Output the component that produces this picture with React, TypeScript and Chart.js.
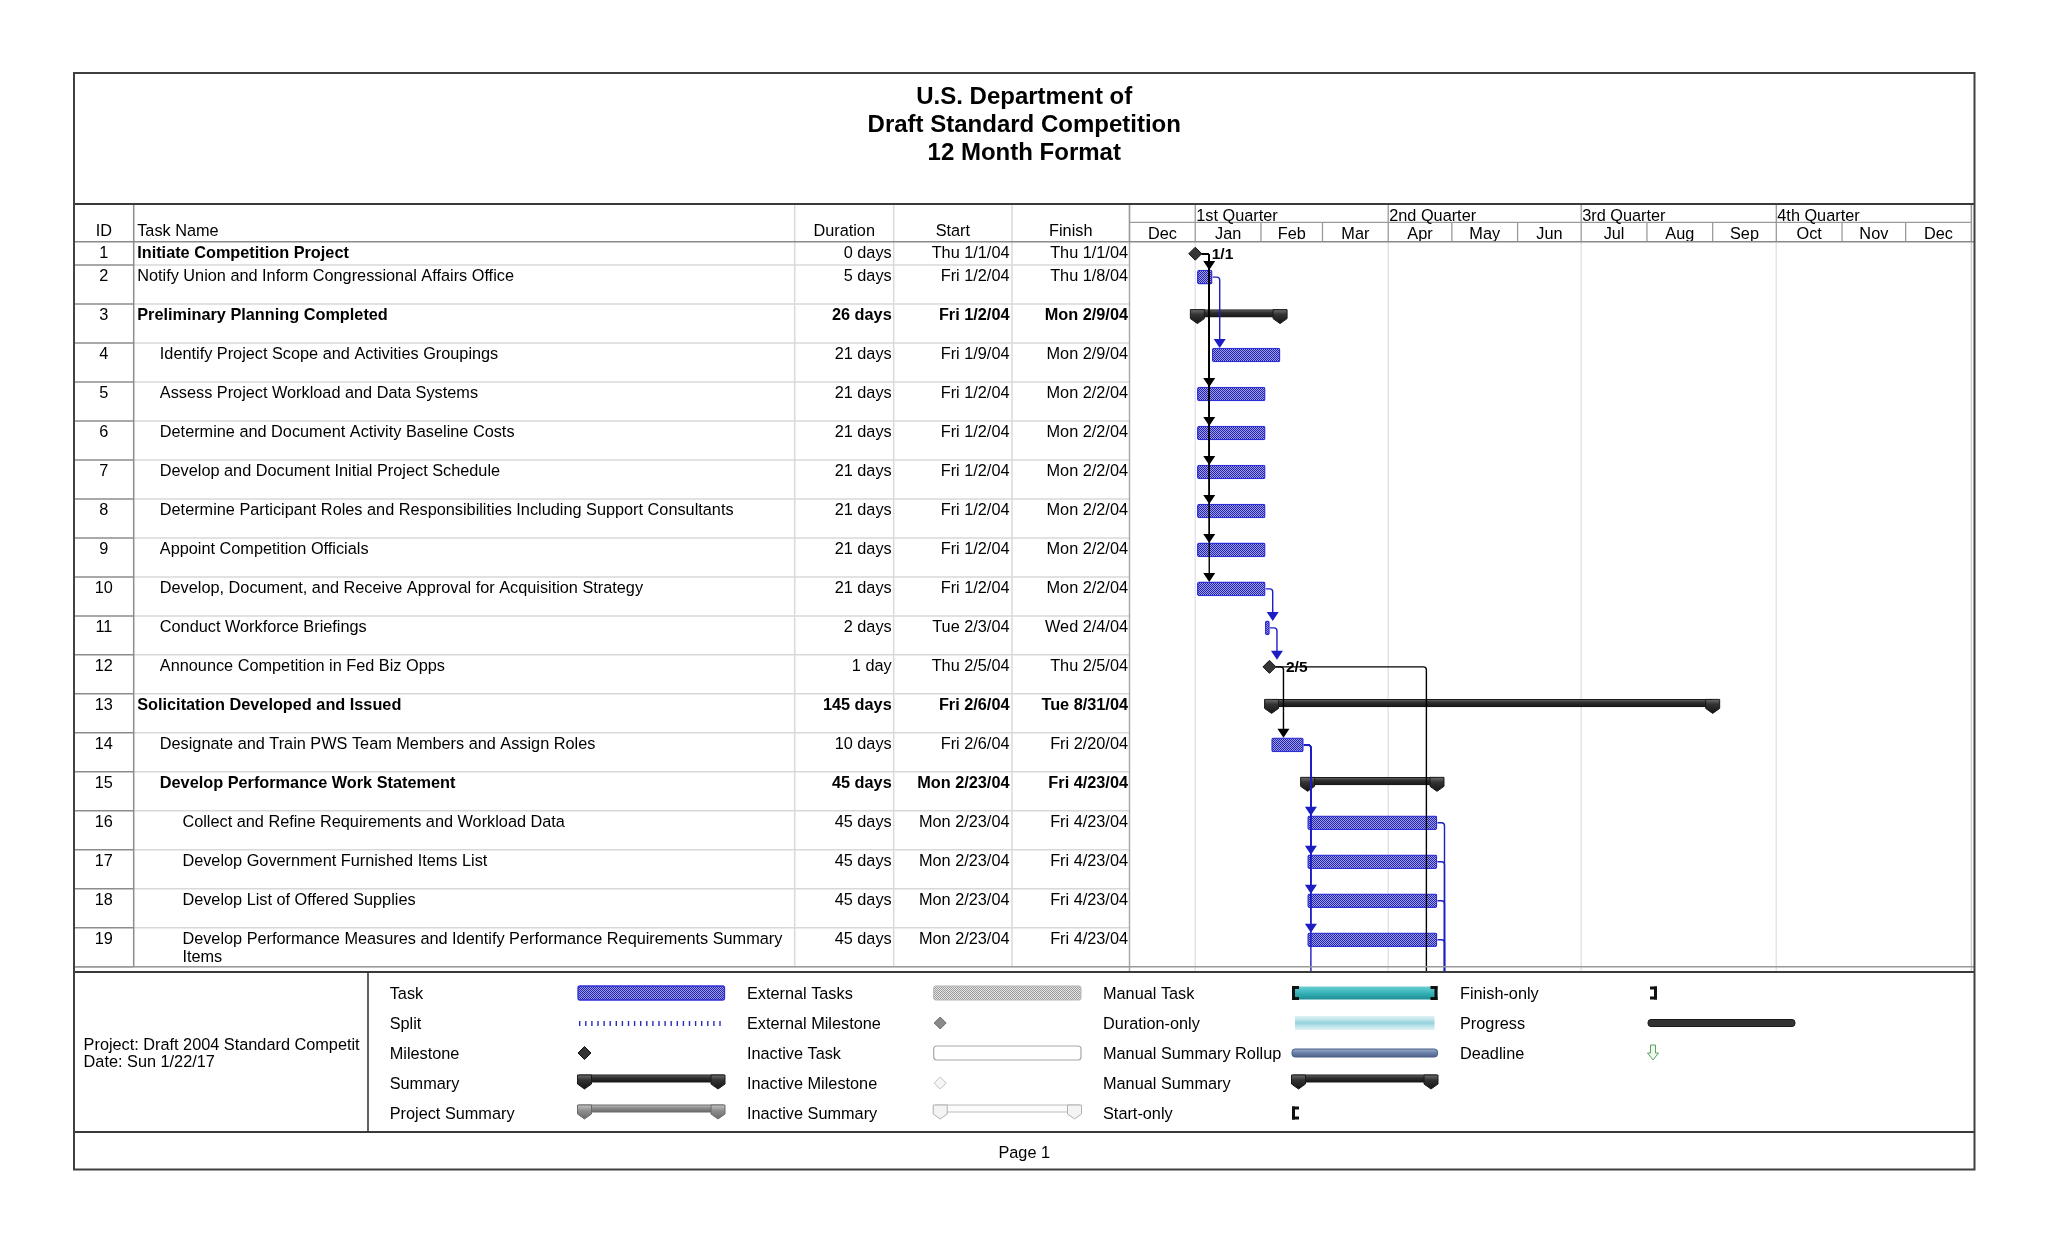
import React, { useEffect, useRef } from 'react';
import { Chart, registerables } from 'chart.js';

Chart.register(...registerables);

// ---------------- data ----------------
const titleLines = ['U.S. Department of', 'Draft Standard Competition', '12 Month Format'];
const columnHeaders = ['ID', 'Task Name', 'Duration', 'Start', 'Finish'];

const taskIds = [1, 2, 3, 4, 5, 6, 7, 8, 9, 10, 11, 12, 13, 14, 15, 16, 17, 18, 19];
const taskNames = [
  'Initiate Competition Project',
  'Notify Union and Inform Congressional Affairs Office',
  'Preliminary Planning Completed',
  'Identify Project Scope and Activities Groupings',
  'Assess Project Workload and Data Systems',
  'Determine and Document Activity Baseline Costs',
  'Develop and Document Initial Project Schedule',
  'Determine Participant Roles and Responsibilities Including Support Consultants',
  'Appoint Competition Officials',
  'Develop, Document, and Receive Approval for Acquisition Strategy',
  'Conduct Workforce Briefings',
  'Announce Competition in Fed Biz Opps',
  'Solicitation Developed and Issued',
  'Designate and Train PWS Team Members and Assign Roles',
  'Develop Performance Work Statement',
  'Collect and Refine Requirements and Workload Data',
  'Develop Government Furnished Items List',
  'Develop List of Offered Supplies',
  'Develop Performance Measures and Identify Performance Requirements Summary Items',
];
const taskLevels = [0, 0, 0, 1, 1, 1, 1, 1, 1, 1, 1, 1, 0, 1, 1, 2, 2, 2, 2];
const taskKinds = ['milestone', 'task', 'summary', 'task', 'task', 'task', 'task', 'task', 'task', 'task', 'task', 'milestone', 'summary', 'task', 'summary', 'task', 'task', 'task', 'task'];
const nameBold = [true, false, true, false, false, false, false, false, false, false, false, false, true, false, true, false, false, false, false];
const valuesBold = [false, false, true, false, false, false, false, false, false, false, false, false, true, false, true, false, false, false, false];
const durations = ['0 days', '5 days', '26 days', '21 days', '21 days', '21 days', '21 days', '21 days', '21 days', '21 days', '2 days', '1 day', '145 days', '10 days', '45 days', '45 days', '45 days', '45 days', '45 days'];
const startLabels = ['Thu 1/1/04', 'Fri 1/2/04', 'Fri 1/2/04', 'Fri 1/9/04', 'Fri 1/2/04', 'Fri 1/2/04', 'Fri 1/2/04', 'Fri 1/2/04', 'Fri 1/2/04', 'Fri 1/2/04', 'Tue 2/3/04', 'Thu 2/5/04', 'Fri 2/6/04', 'Fri 2/6/04', 'Mon 2/23/04', 'Mon 2/23/04', 'Mon 2/23/04', 'Mon 2/23/04', 'Mon 2/23/04'];
const finishLabels = ['Thu 1/1/04', 'Thu 1/8/04', 'Mon 2/9/04', 'Mon 2/9/04', 'Mon 2/2/04', 'Mon 2/2/04', 'Mon 2/2/04', 'Mon 2/2/04', 'Mon 2/2/04', 'Mon 2/2/04', 'Wed 2/4/04', 'Thu 2/5/04', 'Tue 8/31/04', 'Fri 2/20/04', 'Fri 4/23/04', 'Fri 4/23/04', 'Fri 4/23/04', 'Fri 4/23/04', 'Fri 4/23/04'];
// days counted from 12/1/03 (start of the timescale)
const startDays = [31, 32, 32, 39, 32, 32, 32, 32, 32, 32, 64, 66, 67, 67, 84, 84, 84, 84, 84];
const endDays = [31, 39, 71, 71, 64, 64, 64, 64, 64, 64, 66, 66, 275, 82, 145, 145, 145, 145, 145];
const milestoneRows = [1, 12];
const milestoneLabels = ['1/1', '2/5'];

// finish-to-start links; 0 = successor printed on a later page
const linkFrom = [1, 1, 1, 1, 1, 1, 1, 2, 10, 11, 12, 12, 14, 14, 14, 14, 14, 16, 17, 18, 19];
const linkTo = [2, 5, 6, 7, 8, 9, 10, 4, 11, 12, 14, 0, 16, 17, 18, 19, 0, 0, 0, 0, 0];
const linkOffPageStart = [null, null, null, null, null, null, null, null, null, null, null, 140, null, null, null, null, 84, 145, 145, 145, 145];

const monthLabels = ['Dec', 'Jan', 'Feb', 'Mar', 'Apr', 'May', 'Jun', 'Jul', 'Aug', 'Sep', 'Oct', 'Nov', 'Dec'];
const monthStartDays = [0, 31, 62, 91, 122, 152, 183, 213, 244, 275, 305, 336, 366, 397];
const quarterLabels = ['1st Quarter', '2nd Quarter', '3rd Quarter', '4th Quarter'];
const quarterStartDays = [31, 122, 213, 305];

const legendCol1 = ['Task', 'Split', 'Milestone', 'Summary', 'Project Summary'];
const legendCol2 = ['External Tasks', 'External Milestone', 'Inactive Task', 'Inactive Milestone', 'Inactive Summary'];
const legendCol3 = ['Manual Task', 'Duration-only', 'Manual Summary Rollup', 'Manual Summary', 'Start-only'];
const legendCol4 = ['Finish-only', 'Progress', 'Deadline'];
const projectInfo = ['Project: Draft 2004 Standard Competit', 'Date: Sun 1/22/17'];
const footerText = 'Page 1';

// ---------------- layout ----------------
const PAGE_W = 2048;
const PAGE_H = 1243;
const FONT = '"Liberation Sans", Arial, Helvetica, sans-serif';
const FS = 16.3;
const B_LEFT = 74, B_RIGHT = 1974.5, B_TOP = 73, B_BOTTOM = 1169.5;
const C_ID = 133.7, C_NAME = 794.7, C_DUR = 893.7, C_START = 1012, C_FIN = 1129.5;
const HEADER_TOP = 204, QUARTER_BOTTOM = 222.3, HEADER_BOTTOM = 241.7;
const GANTT_RIGHT = 1971.4;
const BODY_BOTTOM = 966.7, LEGEND_TOP = 972, FOOTER_TOP = 1132, LEGEND_DIV = 368;
const X_MAX = 397;
const Y_MAX = 18.6;
const ROW_PX = (BODY_BOTTOM - HEADER_BOTTOM) / Y_MAX;
const BAR_OFF = 12 / ROW_PX;
const SUM_OFF = 9.3 / ROW_PX;
const rowTopU = (r: number) => (r <= 1 ? 0 : r > 19 ? Y_MAX : 0.6 + (r - 2));

function line(ctx: any, x1: number, y1: number, x2: number, y2: number) {
  ctx.beginPath();
  ctx.moveTo(x1, y1);
  ctx.lineTo(x2, y2);
  ctx.stroke();
}

function makeChecker(dark: string, light: string) {
  const c = document.createElement('canvas');
  c.width = 2;
  c.height = 2;
  const g = c.getContext('2d') as CanvasRenderingContext2D;
  g.fillStyle = light;
  g.fillRect(0, 0, 2, 2);
  g.fillStyle = dark;
  g.fillRect(0, 0, 1, 1);
  g.fillRect(1, 1, 1, 1);
  return g.createPattern(c, 'repeat');
}

function summaryGradient(ctx: any, top: number, h: number, dark: boolean) {
  if (!isFinite(top) || !isFinite(h)) return dark ? '#333333' : '#8e8e8e';
  const g = ctx.createLinearGradient(0, top, 0, top + h);
  if (dark) {
    g.addColorStop(0, '#6e6e6e');
    g.addColorStop(0.35, '#333333');
    g.addColorStop(1, '#151515');
  } else {
    g.addColorStop(0, '#c4c4c4');
    g.addColorStop(0.4, '#8e8e8e');
    g.addColorStop(1, '#6a6a6a');
  }
  return g;
}

function drawCap(ctx: any, cx: number, top: number, fill: any, stroke: string) {
  ctx.beginPath();
  ctx.moveTo(cx - 7, top);
  ctx.lineTo(cx + 7, top);
  ctx.lineTo(cx + 7, top + 9);
  ctx.lineTo(cx, top + 14);
  ctx.lineTo(cx - 7, top + 9);
  ctx.closePath();
  ctx.fillStyle = fill;
  ctx.fill();
  ctx.strokeStyle = stroke;
  ctx.lineWidth = 1;
  ctx.stroke();
}

function drawDiamond(ctx: any, cx: number, cy: number, r: number, fill: string, stroke: string) {
  ctx.beginPath();
  ctx.moveTo(cx - r, cy);
  ctx.lineTo(cx, cy - r);
  ctx.lineTo(cx + r, cy);
  ctx.lineTo(cx, cy + r);
  ctx.closePath();
  ctx.fillStyle = fill;
  ctx.fill();
  ctx.strokeStyle = stroke;
  ctx.lineWidth = 1;
  ctx.stroke();
}

function roundRect(ctx: any, x: number, y: number, w: number, h: number, r: number) {
  ctx.beginPath();
  ctx.moveTo(x + r, y);
  ctx.lineTo(x + w - r, y);
  ctx.quadraticCurveTo(x + w, y, x + w, y + r);
  ctx.lineTo(x + w, y + h - r);
  ctx.quadraticCurveTo(x + w, y + h, x + w - r, y + h);
  ctx.lineTo(x + r, y + h);
  ctx.quadraticCurveTo(x, y + h, x, y + h - r);
  ctx.lineTo(x, y + r);
  ctx.quadraticCurveTo(x, y, x + r, y);
  ctx.closePath();
}

function wrapText(ctx: any, text: string, maxW: number) {
  const words = text.split(' ');
  const lines: string[] = [];
  let cur = '';
  for (const w of words) {
    const test = cur ? cur + ' ' + w : w;
    if (ctx.measureText(test).width > maxW && cur) {
      lines.push(cur);
      cur = w;
    } else cur = test;
  }
  if (cur) lines.push(cur);
  return lines;
}

function drawPageBackground(chart: any) {
  const ctx = chart.ctx;
  const xs = chart.scales.x;
  const ys = chart.scales.y;
  ctx.save();
  ctx.fillStyle = '#ffffff';
  ctx.fillRect(0, 0, PAGE_W, PAGE_H);

  // gantt quarter gridlines
  ctx.strokeStyle = '#e3e3ea';
  ctx.lineWidth = 1.5;
  for (const d of quarterStartDays) {
    const x = xs.getPixelForValue(d);
    line(ctx, x, HEADER_BOTTOM, x, LEGEND_TOP);
  }
  ctx.strokeStyle = '#cfcfcf';
  line(ctx, GANTT_RIGHT, HEADER_TOP, GANTT_RIGHT, LEGEND_TOP);

  // table row separators
  for (let r = 1; r <= 19; r++) {
    const yb = ys.getPixelForValue(rowTopU(r + 1));
    ctx.lineWidth = 1.5;
    ctx.strokeStyle = '#d8d8d8';
    line(ctx, C_ID, yb, C_FIN, yb);
    ctx.strokeStyle = '#8c8c8c';
    line(ctx, B_LEFT, yb, C_ID, yb);
  }
  // column borders
  ctx.lineWidth = 1.5;
  ctx.strokeStyle = '#dadada';
  for (const x of [C_NAME, C_DUR, C_START]) line(ctx, x, HEADER_TOP, x, BODY_BOTTOM);
  ctx.strokeStyle = '#8c8c8c';
  line(ctx, C_ID, HEADER_TOP, C_ID, BODY_BOTTOM);
  ctx.strokeStyle = '#ababab';
  line(ctx, C_FIN, HEADER_TOP, C_FIN, LEGEND_TOP);

  // timescale header
  ctx.strokeStyle = '#9a9a9a';
  ctx.lineWidth = 1.3;
  line(ctx, C_FIN, QUARTER_BOTTOM, GANTT_RIGHT, QUARTER_BOTTOM);
  for (const d of monthStartDays) {
    const x = xs.getPixelForValue(d);
    line(ctx, x, QUARTER_BOTTOM, x, HEADER_BOTTOM);
  }
  for (const d of [0, ...quarterStartDays, X_MAX]) {
    const x = xs.getPixelForValue(d);
    line(ctx, x, HEADER_TOP, x, QUARTER_BOTTOM);
  }
  ctx.fillStyle = '#000';
  ctx.font = `${FS}px ${FONT}`;
  ctx.textBaseline = 'alphabetic';
  ctx.textAlign = 'left';
  quarterLabels.forEach((q, i) => {
    ctx.fillText(q, xs.getPixelForValue(quarterStartDays[i]) + 1, QUARTER_BOTTOM - 1.5);
  });
  ctx.textAlign = 'center';
  monthLabels.forEach((m, i) => {
    const xc = (xs.getPixelForValue(monthStartDays[i]) + xs.getPixelForValue(monthStartDays[i + 1])) / 2;
    ctx.fillText(m, xc, HEADER_BOTTOM - 3);
  });

  // header lines
  ctx.strokeStyle = '#3a3a3a';
  ctx.lineWidth = 2;
  line(ctx, B_LEFT, HEADER_TOP, B_RIGHT, HEADER_TOP);
  ctx.strokeStyle = '#8a8a8a';
  ctx.lineWidth = 1.5;
  line(ctx, B_LEFT, HEADER_BOTTOM, B_RIGHT, HEADER_BOTTOM);

  // column headers
  ctx.font = `${FS}px ${FONT}`;
  const hb = 236;
  ctx.textAlign = 'center';
  ctx.fillText(columnHeaders[0], (B_LEFT + C_ID) / 2, hb);
  ctx.textAlign = 'left';
  ctx.fillText(columnHeaders[1], C_ID + 3.5, hb);
  ctx.textAlign = 'center';
  ctx.fillText(columnHeaders[2], (C_NAME + C_DUR) / 2, hb);
  ctx.fillText(columnHeaders[3], (C_DUR + C_START) / 2, hb);
  ctx.fillText(columnHeaders[4], (C_START + C_FIN) / 2, hb);

  // rows
  for (let i = 0; i < taskIds.length; i++) {
    const r = taskIds[i];
    const top = ys.getPixelForValue(rowTopU(r));
    const base = top + 16;
    ctx.font = `${FS}px ${FONT}`;
    ctx.textAlign = 'center';
    ctx.fillText(String(r), (B_LEFT + C_ID) / 2, base);
    ctx.font = `${nameBold[i] ? 'bold ' : ''}${FS}px ${FONT}`;
    ctx.textAlign = 'left';
    const tx = C_ID + 3.5 + taskLevels[i] * 22.6;
    const lines = wrapText(ctx, taskNames[i], C_NAME - tx - 3);
    lines.forEach((ln, k) => ctx.fillText(ln, tx, base + k * 17.8));
    ctx.font = `${valuesBold[i] ? 'bold ' : ''}${FS}px ${FONT}`;
    ctx.textAlign = 'right';
    ctx.fillText(durations[i], C_DUR - 2, base);
    ctx.fillText(startLabels[i], C_START - 2.5, base);
    ctx.fillText(finishLabels[i], C_FIN - 1.5, base);
  }

  // title
  ctx.font = `bold 24px ${FONT}`;
  ctx.textAlign = 'center';
  titleLines.forEach((t, i) => ctx.fillText(t, (B_LEFT + B_RIGHT) / 2, 104 + i * 28));
  ctx.restore();
}

function drawGanttOverlay(chart: any) {
  const ctx = chart.ctx;
  const xs = chart.scales.x;
  const ys = chart.scales.y;
  ctx.save();
  // summary end caps
  taskIds.forEach((r, i) => {
    if (taskKinds[i] !== 'summary') return;
    const yc = ys.getPixelForValue(rowTopU(r) + SUM_OFF);
    const top = yc - 3.75;
    const g = summaryGradient(ctx, top, 14, true);
    drawCap(ctx, xs.getPixelForValue(startDays[i]), top, g, '#1a1a1a');
    drawCap(ctx, xs.getPixelForValue(endDays[i]), top, g, '#1a1a1a');
  });

  // links
  for (let i = 0; i < linkFrom.length; i++) {
    const s = linkFrom[i] - 1;
    const t = linkTo[i];
    const srcMs = taskKinds[s] === 'milestone';
    const sy = ys.getPixelForValue(rowTopU(s + 1) + BAR_OFF);
    const sEnd = xs.getPixelForValue(endDays[s]);
    const x0 = srcMs ? sEnd + 6.5 : sEnd + 0.5;
    const gap = srcMs ? 14 : 7.5;
    const tDay = t === 0 ? (linkOffPageStart[i] as number) : startDays[t - 1];
    const vx = Math.max(sEnd + gap, xs.getPixelForValue(tDay));
    const tipY = t === 0 ? LEGEND_TOP - 1 : ys.getPixelForValue(rowTopU(t) + BAR_OFF) - 7;
    const color = srcMs ? '#000000' : '#1d1dc4';
    ctx.strokeStyle = color;
    ctx.fillStyle = color;
    const rr = 3;
    const ah = t === 0 ? 0 : 8.5;
    ctx.lineWidth = 1.4;
    ctx.beginPath();
    ctx.moveTo(x0, sy);
    ctx.lineTo(vx - rr, sy);
    ctx.quadraticCurveTo(vx, sy, vx, sy + rr);
    ctx.lineTo(vx, tipY - ah);
    ctx.stroke();
    if (t !== 0) {
      ctx.beginPath();
      ctx.moveTo(vx - 6, tipY - 9);
      ctx.lineTo(vx + 6, tipY - 9);
      ctx.lineTo(vx, tipY);
      ctx.closePath();
      ctx.fill();
    }
  }

  // milestone labels
  ctx.fillStyle = '#000';
  ctx.font = `bold 15.5px ${FONT}`;
  ctx.textAlign = 'left';
  ctx.textBaseline = 'alphabetic';
  milestoneRows.forEach((r, k) => {
    const x = xs.getPixelForValue(startDays[r - 1]);
    const y = ys.getPixelForValue(rowTopU(r) + BAR_OFF);
    ctx.fillText(milestoneLabels[k], x + 16.5, y + 5.5);
  });
  ctx.restore();
}

function drawSummaryShape(ctx: any, x1: number, x2: number, top: number, dark: boolean) {
  const g = summaryGradient(ctx, top, 14, dark);
  const stroke = dark ? '#1a1a1a' : '#6a6a6a';
  roundRect(ctx, x1, top, x2 - x1, 7, 1.5);
  ctx.fillStyle = summaryGradient(ctx, top, 7, dark);
  ctx.fill();
  ctx.strokeStyle = stroke;
  ctx.lineWidth = 1;
  ctx.stroke();
  drawCap(ctx, x1 + 6.5, top, g, stroke);
  drawCap(ctx, x2 - 6.5, top, g, stroke);
}

function drawBracket(ctx: any, x: number, top: number, h: number, left: boolean) {
  ctx.fillStyle = '#111';
  if (left) {
    ctx.fillRect(x, top, 3, h);
    ctx.fillRect(x, top, 7, 3);
    ctx.fillRect(x, top + h - 3, 7, 3);
  } else {
    ctx.fillRect(x + 5, top, 3, h);
    ctx.fillRect(x + 1, top, 7, 3);
    ctx.fillRect(x + 1, top + h - 3, 7, 3);
  }
}

function drawLegendSymbol(ctx: any, name: string, x1: number, x2: number, yc: number, taskPat: any, extPat: any) {
  switch (name) {
    case 'Task':
      roundRect(ctx, x1, yc - 7, x2 - x1, 14, 2);
      ctx.fillStyle = taskPat;
      ctx.fill();
      ctx.strokeStyle = '#2f2fd8';
      ctx.lineWidth = 1.3;
      ctx.stroke();
      break;
    case 'Split':
      ctx.fillStyle = '#2b2bb8';
      for (let x = x1 + 1; x < x2 - 1; x += 6.1) ctx.fillRect(x, yc - 2, 1.4, 5);
      break;
    case 'Milestone':
      drawDiamond(ctx, x1 + 6.5, yc, 6.5, '#333', '#111');
      break;
    case 'Summary':
    case 'Manual Summary':
      drawSummaryShape(ctx, x1, x2, yc - 8, true);
      break;
    case 'Project Summary':
      drawSummaryShape(ctx, x1, x2, yc - 8, false);
      break;
    case 'External Tasks':
      roundRect(ctx, x1, yc - 7, x2 - x1, 14, 2);
      ctx.fillStyle = extPat;
      ctx.fill();
      ctx.strokeStyle = '#b5b5b5';
      ctx.lineWidth = 1;
      ctx.stroke();
      break;
    case 'External Milestone':
      drawDiamond(ctx, x1 + 6.5, yc, 6, '#8a8a8a', '#6e6e6e');
      break;
    case 'Inactive Task':
      roundRect(ctx, x1, yc - 7, x2 - x1, 14, 3);
      ctx.fillStyle = '#ffffff';
      ctx.fill();
      ctx.strokeStyle = '#a8a8a8';
      ctx.lineWidth = 1.2;
      ctx.stroke();
      break;
    case 'Inactive Milestone':
      drawDiamond(ctx, x1 + 6.5, yc, 6, '#f6f6f6', '#c4c4c4');
      break;
    case 'Inactive Summary': {
      roundRect(ctx, x1, yc - 8, x2 - x1, 7, 2);
      ctx.fillStyle = '#fbfbfb';
      ctx.fill();
      ctx.strokeStyle = '#bdbdbd';
      ctx.lineWidth = 1;
      ctx.stroke();
      drawCap(ctx, x1 + 6.5, yc - 8, '#f4f4f4', '#b0b0b0');
      drawCap(ctx, x2 - 6.5, yc - 8, '#f4f4f4', '#b0b0b0');
      break;
    }
    case 'Manual Task': {
      const g = ctx.createLinearGradient(0, yc - 7, 0, yc + 7);
      g.addColorStop(0, '#6fd2d6');
      g.addColorStop(0.5, '#35b2b8');
      g.addColorStop(1, '#1b8c92');
      ctx.fillStyle = g;
      ctx.fillRect(x1, yc - 6.5, x2 - x1, 13);
      drawBracket(ctx, x1, yc - 7, 14, true);
      drawBracket(ctx, x2 - 8, yc - 7, 14, false);
      break;
    }
    case 'Duration-only': {
      const g = ctx.createLinearGradient(0, yc - 8, 0, yc + 8);
      g.addColorStop(0, 'rgba(215,238,243,0.6)');
      g.addColorStop(0.5, '#93d2dc');
      g.addColorStop(1, 'rgba(215,238,243,0.6)');
      ctx.fillStyle = g;
      ctx.fillRect(x1 + 3, yc - 7, x2 - x1 - 6, 14);
      break;
    }
    case 'Manual Summary Rollup': {
      roundRect(ctx, x1, yc - 4, x2 - x1, 8, 3);
      const g = ctx.createLinearGradient(0, yc - 4, 0, yc + 4);
      g.addColorStop(0, '#9aaccd');
      g.addColorStop(0.5, '#6a80a9');
      g.addColorStop(1, '#4d628b');
      ctx.fillStyle = g;
      ctx.fill();
      ctx.strokeStyle = '#4b5f88';
      ctx.lineWidth = 1;
      ctx.stroke();
      break;
    }
    case 'Start-only':
      drawBracket(ctx, x1, yc - 6.5, 13, true);
      break;
    case 'Finish-only':
      drawBracket(ctx, x1 + 1, yc - 6.5, 13, false);
      break;
    case 'Progress':
      roundRect(ctx, x1, yc - 3.5, x2 - x1, 7, 3);
      ctx.fillStyle = '#333';
      ctx.fill();
      ctx.strokeStyle = '#1a1a1a';
      ctx.lineWidth = 1;
      ctx.stroke();
      break;
    case 'Deadline': {
      const cx = x1 + 5;
      ctx.beginPath();
      ctx.moveTo(cx - 2.5, yc - 8);
      ctx.lineTo(cx + 2.5, yc - 8);
      ctx.lineTo(cx + 2.5, yc);
      ctx.lineTo(cx + 5.5, yc);
      ctx.lineTo(cx, yc + 7);
      ctx.lineTo(cx - 5.5, yc);
      ctx.lineTo(cx - 2.5, yc);
      ctx.closePath();
      ctx.fillStyle = '#eef7ee';
      ctx.fill();
      ctx.strokeStyle = '#5f9f63';
      ctx.lineWidth = 1;
      ctx.stroke();
      break;
    }
    default:
      break;
  }
}

function drawPageFrame(chart: any, taskPat: any, extPat: any) {
  const ctx = chart.ctx;
  ctx.save();
  // bottom of table / legend frame
  ctx.strokeStyle = '#9a9a9a';
  ctx.lineWidth = 1.5;
  line(ctx, B_LEFT, BODY_BOTTOM, B_RIGHT, BODY_BOTTOM);
  ctx.strokeStyle = '#3a3a3a';
  ctx.lineWidth = 2;
  line(ctx, B_LEFT, LEGEND_TOP, B_RIGHT, LEGEND_TOP);
  line(ctx, B_LEFT, FOOTER_TOP, B_RIGHT, FOOTER_TOP);
  ctx.lineWidth = 1.6;
  line(ctx, LEGEND_DIV, LEGEND_TOP, LEGEND_DIV, FOOTER_TOP);
  // outer border
  ctx.strokeStyle = '#404040';
  ctx.lineWidth = 2;
  ctx.strokeRect(B_LEFT, B_TOP, B_RIGHT - B_LEFT, B_BOTTOM - B_TOP);

  // project info
  ctx.fillStyle = '#000';
  ctx.font = `${FS}px ${FONT}`;
  ctx.textAlign = 'left';
  ctx.textBaseline = 'alphabetic';
  ctx.fillText(projectInfo[0], 83.6, 1049.5);
  ctx.fillText(projectInfo[1], 83.6, 1067.2);

  // legend
  const cols = [
    { labels: legendCol1, lx: 389.7, sx1: 578, sx2: 724.5 },
    { labels: legendCol2, lx: 746.9, sx1: 933.7, sx2: 1081 },
    { labels: legendCol3, lx: 1103, sx1: 1292, sx2: 1437.5 },
    { labels: legendCol4, lx: 1460, sx1: 1648, sx2: 1795 },
  ];
  cols.forEach((c) => {
    c.labels.forEach((lab, k) => {
      const yc = 993 + k * 30;
      ctx.fillStyle = '#000';
      ctx.font = `${FS}px ${FONT}`;
      ctx.textAlign = 'left';
      ctx.fillText(lab, c.lx, yc + 5.6);
      ctx.save();
      drawLegendSymbol(ctx, lab, c.sx1, c.sx2, yc, taskPat, extPat);
      ctx.restore();
    });
  });

  // footer
  ctx.fillStyle = '#000';
  ctx.font = `${FS}px ${FONT}`;
  ctx.textAlign = 'center';
  ctx.fillText(footerText, (B_LEFT + B_RIGHT) / 2, 1157.5);
  ctx.restore();
}

export default function App() {
  const canvasRef = useRef<HTMLCanvasElement | null>(null);

  useEffect(() => {
    const canvas = canvasRef.current;
    if (!canvas) return;
    const taskPat = makeChecker('#2424ac', '#9c9ce8');
    const extPat = makeChecker('#9c9c9c', '#e4e4e4');

    const taskRowsIdx = taskIds.map((_, i) => i).filter((i) => taskKinds[i] === 'task');
    const summaryRowsIdx = taskIds.map((_, i) => i).filter((i) => taskKinds[i] === 'summary');

    const plugin = {
      id: 'ganttPage',
      beforeDraw: (chart: any) => drawPageBackground(chart),
      afterDatasetsDraw: (chart: any) => drawGanttOverlay(chart),
      afterDraw: (chart: any) => drawPageFrame(chart, taskPat, extPat),
    };

    const chart = new Chart(canvas, {
      type: 'bar',
      data: {
        datasets: [
          {
            type: 'bar',
            label: 'Task',
            indexAxis: 'y',
            grouped: false,
            barThickness: 14,
            maxBarThickness: 14,
            data: taskRowsIdx.map((i) => ({ x: [startDays[i], endDays[i]], y: rowTopU(taskIds[i]) + BAR_OFF })),
            backgroundColor: taskPat as any,
            borderColor: '#2f2fd8',
            borderWidth: 1.3,
            borderRadius: 2,
            borderSkipped: false,
            order: 3,
          } as any,
          {
            type: 'bar',
            label: 'Summary',
            indexAxis: 'y',
            grouped: false,
            barThickness: 7.5,
            maxBarThickness: 7.5,
            data: summaryRowsIdx.map((i) => ({ x: [startDays[i], endDays[i]], y: rowTopU(taskIds[i]) + SUM_OFF })),
            backgroundColor: (c: any) => {
              const ys = c.chart.scales && c.chart.scales.y;
              if (!ys || !c.raw || c.type !== 'data') return '#333333';
              const yc = ys.getPixelForValue(c.raw.y);
              return summaryGradient(c.chart.ctx, yc - 3.75, 7.5, true);
            },
            borderColor: '#1a1a1a',
            borderWidth: 1,
            borderRadius: 1.5,
            borderSkipped: false,
            order: 2,
          } as any,
          {
            type: 'scatter',
            label: 'Milestone',
            data: milestoneRows.map((r) => ({ x: startDays[r - 1], y: rowTopU(r) + BAR_OFF })),
            pointStyle: 'rectRot',
            pointRadius: 6.5,
            pointHoverRadius: 6.5,
            backgroundColor: '#353535',
            borderColor: '#151515',
            borderWidth: 1,
            showLine: false,
            order: 1,
          } as any,
        ],
      },
      options: {
        responsive: false,
        maintainAspectRatio: false,
        devicePixelRatio: 1,
        animation: false,
        events: [],
        layout: {
          autoPadding: false,
          padding: {
            left: C_FIN,
            right: PAGE_W - GANTT_RIGHT,
            top: HEADER_BOTTOM,
            bottom: PAGE_H - BODY_BOTTOM,
          },
        },
        scales: {
          x: { type: 'linear', min: 0, max: X_MAX, display: false, stacked: false, offset: false, grace: 0, grid: { offset: false } },
          y: { type: 'linear', min: 0, max: Y_MAX, reverse: true, display: false, offset: false, grace: 0, grid: { offset: false } },
        },
        plugins: {
          legend: { display: false },
          tooltip: { enabled: false },
          title: { display: false },
        },
      } as any,
      plugins: [plugin as any],
    });
    return () => chart.destroy();
  }, []);

  return (
    <div style={{ position: 'absolute', left: 0, top: 0, width: PAGE_W, height: PAGE_H, background: '#fff' }}>
      <canvas ref={canvasRef} width={PAGE_W} height={PAGE_H} style={{ display: 'block', width: PAGE_W, height: PAGE_H }} />
    </div>
  );
}
